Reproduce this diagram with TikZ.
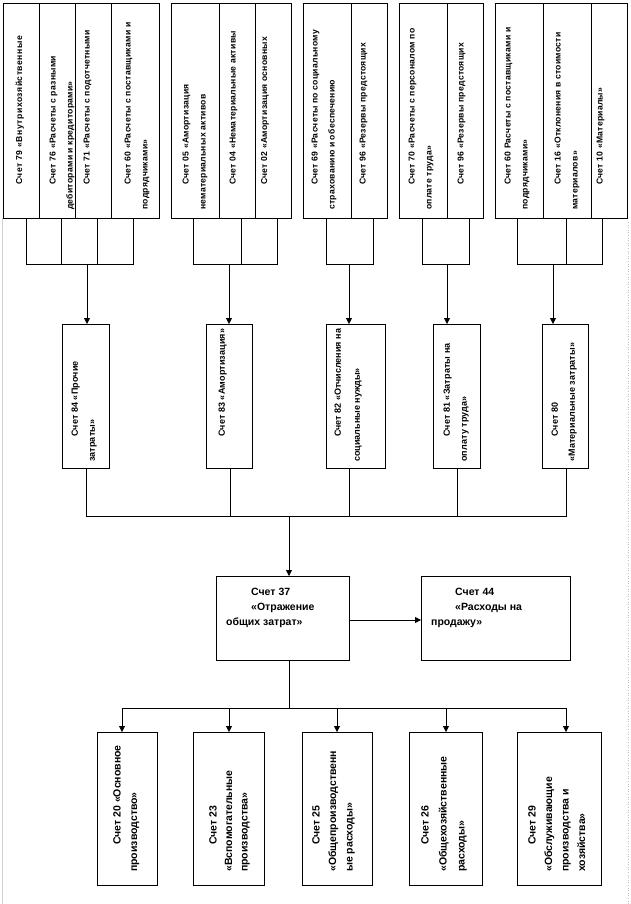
\documentclass[tikz,border=0pt]{standalone}
\usepackage{fontspec}
\setmainfont{Liberation Sans}
\usetikzlibrary{arrows.meta,calc}
\newcommand\bx[5]{\node[bx, minimum width={#4-#2}, minimum height={#5-#3}] (#1) at ({(#2+#4)/2},{(#3+#5)/2}) {};}
\begin{document}
\begin{tikzpicture}[x=1pt,y=-1pt,
 bx/.style={draw, line width=0.8pt, inner sep=0pt, outer sep=0pt},
 ln/.style={line width=0.8pt},
 arr/.style={line width=0.8pt, -{Triangle[length=6pt,width=6pt]}},
 vt/.style={rotate=90, anchor=north west, align=left, inner sep=0pt, font=\fontsize{8.6}{17}\selectfont\bfseries\addfontfeature{LetterSpace=3}},
 vtm/.style={vt, font=\fontsize{9}{17}\selectfont\bfseries\addfontfeature{LetterSpace=1.5}},
 vtb/.style={vt, font=\fontsize{10.5}{16.5}\selectfont\bfseries},
 ht/.style={anchor=north west, align=left, inner sep=0pt, font=\fontsize{10.5}{15}\selectfont\bfseries}]
\useasboundingbox (0,0) rectangle (630,904);
\fill[white] (0,0) rectangle (630,904);
% page margin marks
\draw[gray!35, line width=0.6pt] (2,218) -- (2,904);
\draw[gray!50, line width=0.6pt, dotted] (628,222) -- (628,904);
% ---------- top row ----------
\bx{a1}{3}{3}{39}{218}
\bx{a2}{39}{3}{75}{218}
\bx{a3}{75}{3}{111}{218}
\bx{a4}{111}{3}{159}{218}
\bx{b1}{171}{3}{219}{218}
\bx{b2}{219}{3}{255}{218}
\bx{b3}{255}{3}{291}{218}
\bx{c1}{303}{3}{351}{218}
\bx{c2}{351}{3}{387}{218}
\bx{d1}{399}{3}{447}{218}
\bx{d2}{447}{3}{483}{218}
\bx{e1}{495}{3}{543}{218}
\bx{e2}{543}{3}{591}{218}
\bx{e3}{591}{3}{627}{218}
\node[vt, font=\fontsize{8.6}{17}\selectfont\bfseries\addfontfeature{LetterSpace=6}] (ta1) at ($(a1.south west)+(12.5,-8)$) {\hspace*{25pt}Счет 79 «Внутрихозяйственные};
\node[vt] (ta2) at ($(a2.south west)+(10.5,-8)$) {\hspace*{25pt}Счет 76 «Расчеты с разными\\дебиторами и кредиторами»};
\node[vt] (ta3) at ($(a3.south west)+(8.5,-8)$) {\hspace*{25pt}Счет 71 «Расчеты с подотчетными};
\node[vt] (ta4) at ($(a4.south west)+(13.5,-8)$) {\hspace*{25pt}Счет 60 «Расчеты с поставщиками и\\подрядчиками»};
\node[vt] (tb1) at ($(b1.south west)+(11.5,-8)$) {\hspace*{25pt}Счет 05 «Амортизация\\нематериальных активов};
\node[vt] (tb2) at ($(b2.south west)+(10.5,-8)$) {\hspace*{25pt}Счет 04 «Нематериальные активы};
\node[vt] (tb3) at ($(b3.south west)+(6,-8)$) {\hspace*{25pt}Счет 02 «Амортизация основных};
\node[vt] (tc1) at ($(c1.south west)+(8.5,-8)$) {\hspace*{25pt}Счет 69 «Расчеты по социальному\\страхованию и обеспечению};
\node[vt] (tc2) at ($(c2.south west)+(8.5,-8)$) {\hspace*{25pt}Счет 96 «Резервы предстоящих};
\node[vt] (td1) at ($(d1.south west)+(9.5,-8)$) {\hspace*{25pt}Счет 70 «Расчеты с персоналом по\\оплате труда»};
\node[vt] (td2) at ($(d2.south west)+(10.5,-8)$) {\hspace*{25pt}Счет 96 «Резервы предстоящих};
\node[vt] (te1) at ($(e1.south west)+(9.5,-8)$) {\hspace*{25pt}Счет 60 Расчеты с поставщиками и\\подрядчиками»};
\node[vt] (te2) at ($(e2.south west)+(11.5,-8)$) {\hspace*{25pt}Счет 16 «Отклонения в стоимости\\материалов»};
\node[vt] (te3) at ($(e3.south west)+(5.5,-8)$) {\hspace*{25pt}Счет 10 «Материалы»};
% ---------- middle row ----------
\bx{m84}{62}{324}{109}{468}
\bx{m83}{206}{324}{252}{468}
\bx{m82}{326}{324}{385}{468}
\bx{m81}{433}{324}{480}{468}
\bx{m80}{542}{324}{588}{468}
\node[vtm] (t84) at ($(m84.south west)+(9.5,-6)$) {\hspace*{25pt}Счет 84 «Прочие\\затраты»};
\node[vtm] (t83) at ($(m83.south west)+(12.5,-6)$) {\hspace*{25pt}Счет 83 «Амортизация»};
\node[vt, font=\fontsize{9}{19}\selectfont\bfseries] (t82) at ($(m82.south west)+(8.5,-6)$) {\hspace*{25pt}Счет 82 «Отчисления на\\социальные нужды»};
\node[vtm] (t81) at ($(m81.south west)+(10.5,-6)$) {\hspace*{25pt}Счет 81 «Затраты на\\оплату труда»};
\node[vtm] (t80) at ($(m80.south west)+(9.5,-6)$) {\hspace*{25pt}Счет 80\\«Материальные затраты»};
% ---------- center row ----------
\bx{s37}{216}{576}{349}{660}
\bx{s44}{421}{576}{570}{660}
\node[ht] (t37) at ($(s37.north west)+(10,11.5)$) {\hspace*{25pt}Счет 37\\\hspace*{25pt}«Отражение\\общих затрат»};
\node[ht] (t44) at ($(s44.north west)+(10,11.5)$) {\hspace*{24pt}Счет 44\\\hspace*{24pt}«Расходы на\\продажу»};
% ---------- bottom row ----------
\bx{n20}{97}{732}{157}{885}
\bx{n23}{193}{732}{264}{885}
\bx{n25}{302}{732}{372}{885}
\bx{n26}{409}{732}{482}{885}
\bx{n29}{517}{732}{601}{885}
\node[vtb] (t20) at ($(n20.south west)+(16,-13)$) {\hspace*{27pt}Счет 20 «Основное\\производство»};
\node[vtb, font=\fontsize{10.5}{15.5}\selectfont\bfseries] (t23) at ($(n23.south west)+(16,-13)$) {\hspace*{27pt}Счет 23\\«Вспомогательные\\производства»};
\node[vtb] (t25) at ($(n25.south west)+(10,-13)$) {\hspace*{27pt}Счет 25\\«Общепроизводственн\\ые расходы»};
\node[vtb, font=\fontsize{10.5}{18}\selectfont\bfseries] (t26) at ($(n26.south west)+(12,-13)$) {\hspace*{27pt}Счет 26\\«Общехозяйственные\\расходы»};
\node[vtb] (t29) at ($(n29.south west)+(11,-13)$) {\hspace*{27pt}Счет 29\\«Обслуживающие\\производства и\\хозяйства»};
% ---------- connectors: top -> middle ----------
\coordinate (j1) at (87,264);
\coordinate (j2) at (229,264);
\coordinate (j3) at (349,264);
\coordinate (j4) at (447,264);
\coordinate (j5) at (553,264);
\draw[ln] (26,218) -- (26,264) -- (133,264) -- (133,218);
\draw[ln] (61,218) -- (61,264);
\draw[ln] (97,218) -- (97,264);
\draw[ln] (193,218) -- (193,264) -- (277,264) -- (277,218);
\draw[ln] (241,218) -- (241,264);
\draw[ln] (326,218) -- (326,264) -- (373,264) -- (373,218);
\draw[ln] (422,218) -- (422,264) -- (469,264) -- (469,218);
\draw[ln] (517,218) -- (517,264) -- (602,264) -- (602,218);
\draw[ln] (566,218) -- (566,264);
\draw[arr] (j1) -- (j1 |- m84.north);
\draw[arr] (j2) -- (j2 |- m83.north);
\draw[arr] (j3) -- (j3 |- m82.north);
\draw[arr] (j4) -- (j4 |- m81.north);
\draw[arr] (j5) -- (j5 |- m80.north);
% ---------- middle -> 37 ----------
\coordinate (k1) at (86,516);
\coordinate (k5) at (566,516);
\coordinate (k0) at (289,516);
\draw[ln] (m84.south -| k1) -- (k1) -- (k5) -- (m80.south -| k5);
\draw[ln] (m83.south -| 230,0) -- (230,516);
\draw[ln] (m82.south -| 349,0) -- (349,516);
\draw[ln] (m81.south -| 457,0) -- (457,516);
\draw[arr] (k0) -- (k0 |- s37.north);
% ---------- 37 -> 44 ----------
\draw[arr] (s37.east |- 0,620) -- (s44.west |- 0,620);
% ---------- 37 -> bottom ----------
\coordinate (h0) at (289,708);
\coordinate (h1) at (122,708);
\coordinate (h2) at (229,708);
\coordinate (h3) at (337,708);
\coordinate (h4) at (446,708);
\coordinate (h5) at (566,708);
\draw[ln] (s37.south -| h0) -- (h0);
\draw[ln] (h1) -- (h5);
\draw[arr] (h1) -- (h1 |- n20.north);
\draw[arr] (h2) -- (h2 |- n23.north);
\draw[arr] (h3) -- (h3 |- n25.north);
\draw[arr] (h4) -- (h4 |- n26.north);
\draw[arr] (h5) -- (h5 |- n29.north);
\end{tikzpicture}
\end{document}
